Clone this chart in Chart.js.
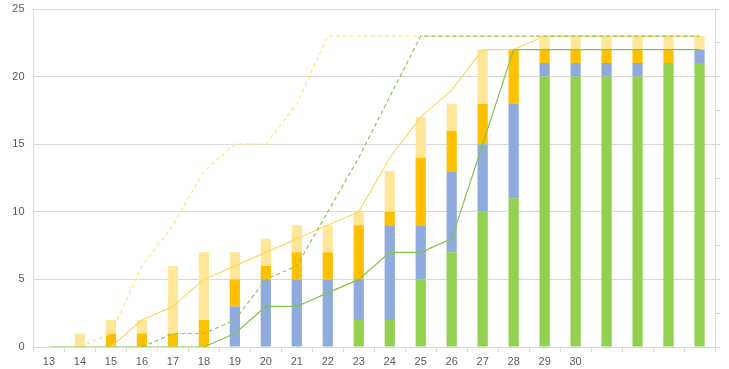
<!DOCTYPE html>
<html>
<head>
<meta charset="utf-8">
<script src="https://cdn.jsdelivr.net/npm/chart.js@4/dist/chart.umd.min.js"></script>
<style>
  html, body { margin: 0; padding: 0; background: #ffffff; }
  #chart { display: block; }
</style>
</head>
<body>
<canvas id="chart" width="729" height="369"></canvas>
<script>
// tick labels (last four bars have no label in the original)
const days = ['13', '14', '15', '16', '17', '18', '19', '20', '21', '22', '23',
              '24', '25', '26', '27', '28', '29', '30', '', '', '', ''];

// stacked bars, bottom to top
const greenBars  = [0, 0, 0, 0, 0, 0, 0, 0, 0, 0, 2, 2, 5, 7, 10, 11, 20, 20, 20, 20, 21, 21];
const blueBars   = [0, 0, 0, 0, 0, 0, 3, 5, 5, 5, 3, 7, 4, 6, 5, 7, 1, 1, 1, 1, 0, 1];
const orangeBars = [0, 0, 1, 1, 1, 2, 2, 1, 2, 2, 4, 1, 5, 3, 3, 4, 1, 1, 1, 1, 1, 0];
const paleBars   = [0, 1, 1, 1, 5, 5, 2, 2, 2, 2, 1, 3, 3, 2, 4, 0, 1, 1, 1, 1, 1, 1];

// lines
const paleDashed  = [null, 0, 1, 6, 9, 13, 15, 15, 18, 23, 23, 23, 23, 23, 23, 23, 23, 23, 23, 23, 23, 23];
const yellowLine  = [null, null, 0, 2, 3, 5, 6, 7, 8, 9, 10, 14, 17, 19, 22, 22, 23, 23, 23, 23, 23, 23];
const greenDashed = [null, null, null, 0, 1, 1, 2, 5, 6, 10, 14, 18.5, 23, 23, 23, 23, 23, 23, 23, 23, 23, 23];
const greenLine   = [0, 0, 0, 0, 0, 0, 1, 3, 3, 4, 5, 7, 7, 8, 15, 22, 22, 22, 22, 22, 22, 22];

const gridColor = '#d9d9d9';
const labelColor = '#595959';

function bar(data, color) {
    return {
        type: 'bar',
        data: data,
        backgroundColor: color,
        stack: 'bars',
        categoryPercentage: 1,
        barPercentage: 0.33,
        order: 2
    };
}

function line(data, color, dash, order) {
    return {
        type: 'line',
        data: data,
        borderColor: color,
        borderWidth: 1.2,
        borderDash: dash,
        pointRadius: 0,
        tension: 0,
        fill: false,
        yAxisID: 'y2',
        order: order
    };
}

// keep the plot area where the original has it
function fixWidth(w) {
    return function(scale) {
        scale.width = w;
        scale.paddingTop = 0;
        scale.paddingBottom = 0;
    };
}

const ctx = document.getElementById('chart').getContext('2d');

new Chart(ctx, {
    data: {
        labels: days,
        datasets: [
            bar(greenBars, '#92d050'),
            bar(blueBars, '#8faadc'),
            bar(orangeBars, '#ffc000'),
            bar(paleBars, '#ffe699'),
            line(paleDashed, '#ffe483', [4, 3], 1.4),
            line(yellowLine, '#ffd966', [], 1.3),
            line(greenDashed, '#8cc858', [4, 3], 1.2),
            line(greenLine, '#7fc64c', [], 1.1)
        ]
    },
    options: {
        responsive: false,
        animation: false,
        devicePixelRatio: 1,
        layout: { padding: { top: 9, left: 0, right: 0, bottom: 0 } },
        plugins: {
            legend: { display: false },
            tooltip: { enabled: false }
        },
        scales: {
            x: {
                stacked: true,
                offset: true,
                grid: {
                    offset: true,
                    drawOnChartArea: false,
                    drawTicks: true,
                    tickLength: 5,
                    color: gridColor
                },
                border: { color: gridColor },
                ticks: {
                    color: labelColor,
                    font: { family: 'Liberation Sans', size: 11 },
                    maxRotation: 0,
                    autoSkip: false,
                    padding: 3
                },
                afterFit: function(scale) {
                    scale.height = 22;
                    scale.paddingLeft = 0;
                    scale.paddingRight = 0;
                }
            },
            y: {
                stacked: true,
                min: 0,
                max: 25,
                ticks: {
                    stepSize: 5,
                    color: labelColor,
                    font: { family: 'Liberation Sans', size: 11 },
                    padding: 9
                },
                grid: { color: gridColor, drawTicks: false },
                border: { color: gridColor },
                afterFit: fixWidth(33.5)
            },
            y2: {
                position: 'right',
                min: 0,
                max: 25,
                ticks: { stepSize: 2.5, display: false },
                grid: {
                    drawOnChartArea: false,
                    drawTicks: true,
                    tickLength: 5,
                    color: gridColor
                },
                border: { color: gridColor },
                afterFit: fixWidth(14)
            }
        }
    }
});
</script>
</body>
</html>
